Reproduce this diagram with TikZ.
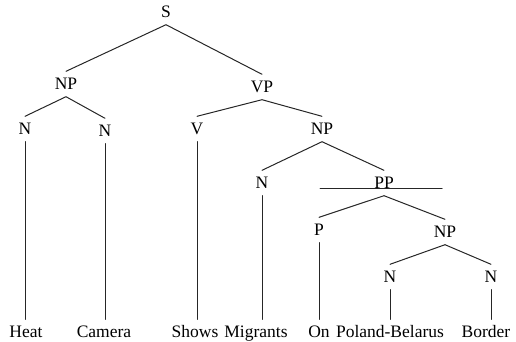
\documentclass[tikz,border=0pt]{standalone}
\usepackage{fontspec}
\setmainfont{Liberation Serif}
\tikzset{cat/.style={inner sep=0pt,minimum height=25pt,text height=11pt,text depth=0pt},
	br/.style={draw=black!85,line width=1pt}}
\begin{document}
\begin{tikzpicture}[x=1pt,y=-1pt,line join=round,line cap=round,font=\fontsize{17.5}{20}\selectfont]
			\useasboundingbox (0,0) rectangle (516,341);
			\path (166,12) node[cat] (s) {S} (66,84) node[cat] (np1) {NP} (262,87) node[cat] (vp) {VP}
				(25,129) node[cat] (n1) {N} (105,131) node[cat] (n2) {N} (197,129) node[cat] (v) {V}
				(322,129) node[cat] (np2) {NP} (262,183) node[cat] (n3) {N} (384,183) node[cat] (pp) {PP}
				(319,230) node[cat] (p) {P} (445,232) node[cat] (np3) {NP} (390,277) node[cat] (n4) {N} (491,277) node[cat] (n5) {N};
			\path (26,332) node[cat] (heat) {Heat} (104,332) node[cat] (camera) {Camera} (195,332) node[cat] (shows) {Shows}
				(256,332) node[cat] (migrants) {Migrants} (319,332) node[cat] (on) {On} (390,332) node[cat] (poland) {Poland-Belarus}
				(486,332) node[cat] (border) {Border};
			\foreach \a/\b in {s/np1,s/vp,np1/n1,np1/n2,vp/v,vp/np2,np2/n3,np2/pp,pp/p,pp/np3,np3/n4,np3/n5}
				\draw[br] (\a.south) -- (\b.north);
			\foreach \a/\b in {n1/heat,n2/camera,v/shows,n3/migrants,p/on,n4/poland,n5/border}
				\draw[br] (\a.south) -- (\a.south |- \b.north);
			\draw[br] ([xshift=-64pt]pp.base) -- ([xshift=58pt]pp.base);
	\end{tikzpicture}
\end{document}
